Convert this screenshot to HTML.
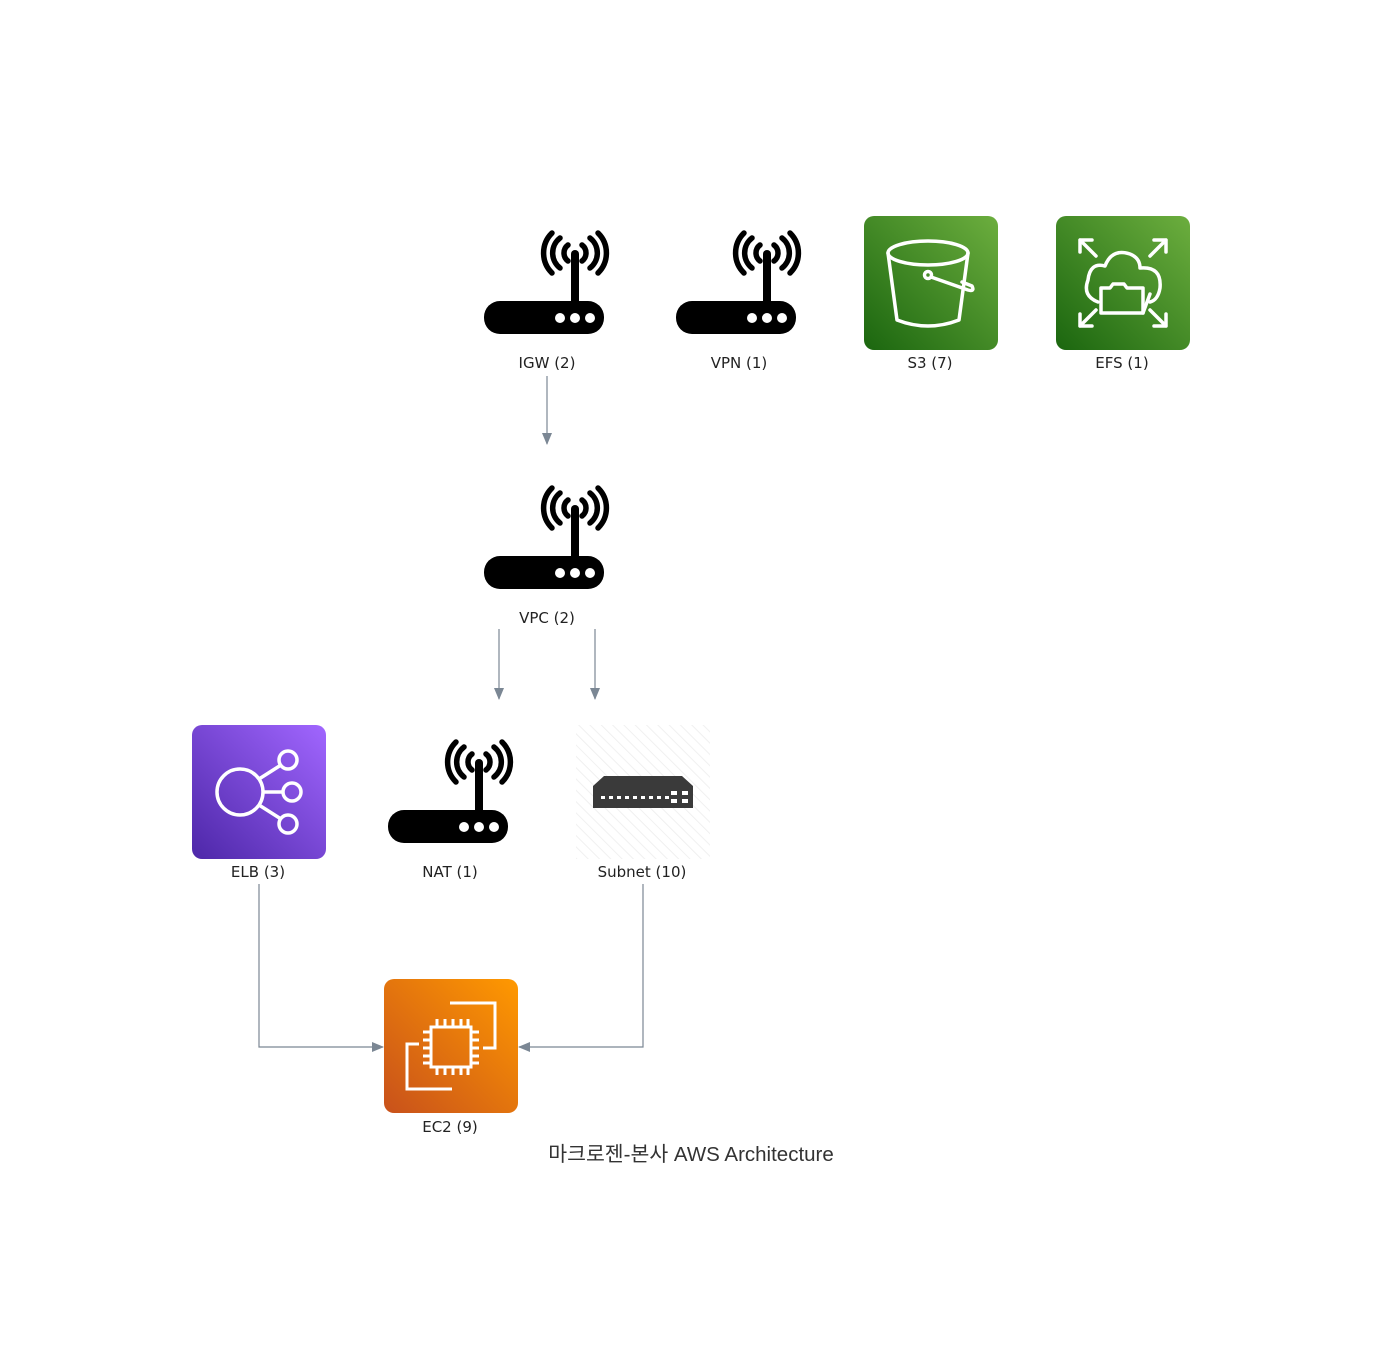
<!DOCTYPE html>
<html><head><meta charset="utf-8"><style>
html,body{margin:0;padding:0;background:#fff;width:1382px;height:1366px;overflow:hidden}
text{font-family:"DejaVu Sans","Liberation Sans",sans-serif;font-size:15px;fill:#222}
</style></head><body>
<svg width="1382" height="1366" viewBox="0 0 1382 1366" xmlns="http://www.w3.org/2000/svg">
<defs>
<g id="router">
 <rect x="87" y="18" width="8" height="58" rx="4" fill="#000"/>
 <g fill="none" stroke="#000" stroke-width="5.5" stroke-linecap="round">
  <path d="M84,13 A10,10 0 0 0 84,29"/><path d="M98,13 A10,10 0 0 1 98,29"/>
  <path d="M76,6 A19,19 0 0 0 76,36"/><path d="M106,6 A19,19 0 0 1 106,36"/>
  <path d="M68,1 A28,28 0 0 0 68,41"/><path d="M114,1 A28,28 0 0 1 114,41"/>
 </g>
 <rect x="0" y="69" width="120" height="33" rx="16" fill="#000"/>
 <circle cx="76" cy="86" r="5" fill="#fff"/><circle cx="91" cy="86" r="5" fill="#fff"/><circle cx="106" cy="86" r="5" fill="#fff"/>
</g>
<linearGradient id="gG" x1="0" y1="1" x2="1" y2="0"><stop offset="0" stop-color="#1b660f"/><stop offset="1" stop-color="#6cae3e"/></linearGradient>
<linearGradient id="gP" x1="0" y1="1" x2="1" y2="0"><stop offset="0" stop-color="#4d27a8"/><stop offset="1" stop-color="#a166ff"/></linearGradient>
<linearGradient id="gO" x1="0" y1="1" x2="1" y2="0"><stop offset="0" stop-color="#c8511b"/><stop offset="1" stop-color="#ff9900"/></linearGradient>
<pattern id="hatch" width="8" height="8" patternUnits="userSpaceOnUse" patternTransform="rotate(-45)"><line x1="0" y1="0" x2="0" y2="8" stroke="#f0f0f0" stroke-width="2"/></pattern>
<marker id="ar" markerWidth="12" markerHeight="12" refX="11" refY="5" orient="auto" markerUnits="userSpaceOnUse"><path d="M0,0 L12,5 L0,10 Z" fill="#7b8794"/></marker>
</defs>

<use href="#router" x="484" y="232"/>
<use href="#router" x="676" y="232"/>
<use href="#router" x="484" y="487"/>
<use href="#router" x="388" y="741"/>

<rect x="864" y="216" width="134" height="134" rx="10" fill="url(#gG)"/>
<g fill="none" stroke="#fff" stroke-width="3.5" stroke-linecap="round" stroke-linejoin="round">
 <ellipse cx="928" cy="253" rx="40" ry="12"/>
 <path d="M888,253 L897,320 Q928,332 959,320 L968,253"/>
 <circle cx="928" cy="275" r="3.5"/>
 <path d="M931,277 L968,290 Q975,292 972,286 L962,282"/>
</g>
<rect x="1056" y="216" width="134" height="134" rx="10" fill="url(#gG)"/>
<g fill="none" stroke="#fff" stroke-width="3.5" stroke-linecap="round" stroke-linejoin="round">
 <path d="M1080,240 L1096,256 M1080,240 L1080,252 M1080,240 L1092,240"/>
 <path d="M1166,240 L1150,256 M1166,240 L1166,252 M1166,240 L1154,240"/>
 <path d="M1080,326 L1096,310 M1080,326 L1080,314 M1080,326 L1092,326"/>
 <path d="M1166,326 L1150,310 M1166,326 L1166,314 M1166,326 L1154,326"/>
 <path d="M1098,302 Q1082,296 1088,280 Q1090,262 1105,266 Q1112,248 1130,254 Q1140,258 1140,268 Q1162,266 1160,288 Q1158,300 1150,302"/>
 <path d="M1101,313 L1101,288 L1110,288 L1113,284 L1124,284 L1127,288 L1143,288 L1143,313 Z"/>
 <path d="M1143,313 L1150,294"/>
</g>
<rect x="192" y="725" width="134" height="134" rx="10" fill="url(#gP)"/>
<g fill="none" stroke="#fff" stroke-width="3.5">
 <circle cx="240" cy="792" r="23"/>
 <circle cx="288" cy="760" r="9"/><circle cx="292" cy="792" r="9"/><circle cx="288" cy="824" r="9"/>
 <path d="M259,779 L281,765 M263,792 L283,792 M259,805 L281,819"/>
</g>
<rect x="576" y="725" width="134" height="134" fill="url(#hatch)"/>
<path d="M593,786 L604,776 L682,776 L693,786 Z" fill="#3a3a3a"/>
<rect x="593" y="786" width="100" height="22" fill="#3a3a3a"/>
<g fill="#fff">
 <rect x="601" y="796" width="4" height="3"/><rect x="609" y="796" width="4" height="3"/><rect x="617" y="796" width="4" height="3"/><rect x="625" y="796" width="4" height="3"/><rect x="633" y="796" width="4" height="3"/><rect x="641" y="796" width="4" height="3"/><rect x="649" y="796" width="4" height="3"/><rect x="657" y="796" width="4" height="3"/><rect x="665" y="796" width="4" height="3"/>
 <rect x="671" y="791" width="6" height="4"/><rect x="682" y="791" width="6" height="4"/><rect x="671" y="799" width="6" height="4"/><rect x="682" y="799" width="6" height="4"/>
</g>
<rect x="384" y="979" width="134" height="134" rx="10" fill="url(#gO)"/>
<g fill="none" stroke="#fff" stroke-width="3">
 <path d="M450,1003 L495,1003 L495,1048 L483,1048"/>
 <path d="M452,1089 L407,1089 L407,1044 L419,1044"/>
 <rect x="431" y="1027" width="40" height="40"/>
 <path d="M437,1019v8M445,1019v8M453,1019v8M461,1019v8M468,1019v8 M437,1067v8M445,1067v8M453,1067v8M461,1067v8M468,1067v8 M423,1032h8M423,1040h8M423,1048h8M423,1056h8M423,1063h8 M471,1032h8M471,1040h8M471,1048h8M471,1056h8M471,1063h8"/>
</g>

<g stroke="#7b8794" stroke-width="1.2" fill="none">
 <path d="M547,376 L547,444" marker-end="url(#ar)"/>
 <path d="M499,629 L499,699" marker-end="url(#ar)"/>
 <path d="M595,629 L595,699" marker-end="url(#ar)"/>
 <path d="M259,884 L259,1047 L383,1047" marker-end="url(#ar)"/>
 <path d="M643,884 L643,1047 L519,1047" marker-end="url(#ar)"/>
</g>

<g text-anchor="middle">
 <text x="547" y="368">IGW (2)</text>
 <text x="739" y="368">VPN (1)</text>
 <text x="930" y="368">S3 (7)</text>
 <text x="1122" y="368">EFS (1)</text>
 <text x="547" y="623">VPC (2)</text>
 <text x="258" y="877">ELB (3)</text>
 <text x="450" y="877">NAT (1)</text>
 <text x="642" y="877">Subnet (10)</text>
 <text x="450" y="1132">EC2 (9)</text>
 <text x="691" y="1161" style="font-size:20.5px;font-family:'Liberation Sans','Noto Sans CJK KR',sans-serif;fill:#333">마크로젠-본사  AWS Architecture</text>
</g>
</svg>
</body></html>
